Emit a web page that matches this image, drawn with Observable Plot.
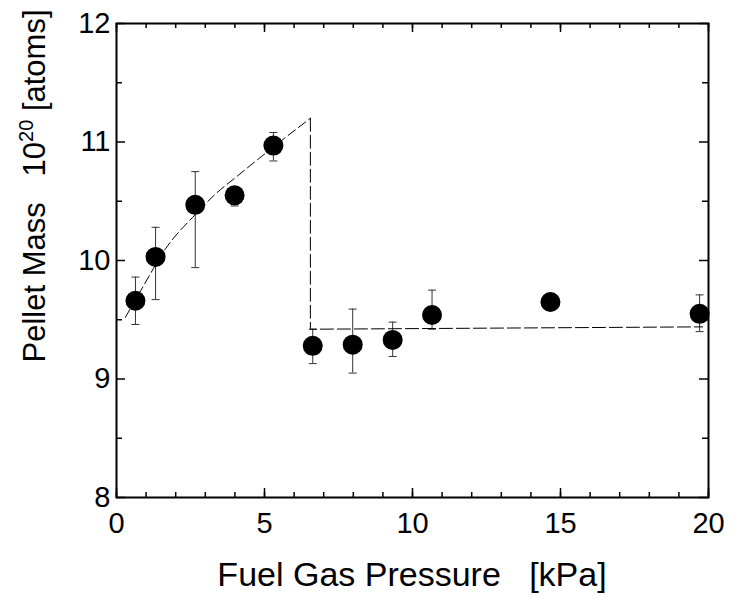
<!DOCTYPE html>
<html>
<head>
<meta charset="utf-8">
<script src="https://cdn.jsdelivr.net/npm/d3@7"></script>
<script src="https://cdn.jsdelivr.net/npm/@observablehq/plot@0.6"></script>
<style>
  html, body { margin: 0; padding: 0; background: #fff; }
</style>
</head>
<body>
<div id="chart"></div>
<script>
// Measured data points
const pressure = [0.64, 1.32, 2.66, 3.99, 5.30, 6.63, 7.98, 9.33, 10.66, 14.66, 19.70];
const mass     = [9.66, 10.03, 10.47, 10.55, 10.97, 9.28, 9.29, 9.33, 9.54, 9.65, 9.55];
const errLow   = [9.46, 9.67, 9.94, 10.46, 10.84, 9.13, 9.05, 9.19, 9.42, null, 9.40];
const errHigh  = [9.86, 10.28, 10.75, 10.60, 11.08, 9.42, 9.59, 9.48, 9.75, null, 9.71];

// Dashed fit curve
const fitX = [0.30, 0.92, 1.66, 2.67, 3.34, 4.02, 4.81, 5.31, 6.55];
const fitY = [9.52, 9.79, 10.10, 10.39, 10.56, 10.70, 10.86, 10.96, 11.20];
// Drop and plateau
const stepX = [6.55, 6.55, 19.80];
const stepY = [11.20, 9.42, 9.44];

// Tick labels
const xTicks = [0, 5, 10, 15, 20];
const yTicks = [8, 9, 10, 11, 12];
const xMinor = d3.range(0, 21, 1);
const yMinor = [8.5, 9.5, 10.5, 11.5];

const points = pressure.map((x, i) => ({x, y: mass[i], lo: errLow[i], hi: errHigh[i]}));
const bars = points.filter(d => d.lo != null);
const fit = fitX.map((x, i) => ({x, y: fitY[i]}));
const step = stepX.map((x, i) => ({x, y: stepY[i]}));

const W = 732, H = 598;
const mL = 116, mR = 24, mT = 23, mB = 101;
const fw = W - mL - mR, fh = H - mT - mB;

const capSymbol = {
  draw(context, size) {
    const r = Math.sqrt(size / Math.PI);
    context.moveTo(-r, 0);
    context.lineTo(r, 0);
  }
};

const chart = Plot.plot({
  width: W,
  height: H,
  marginLeft: mL,
  marginRight: mR,
  marginTop: mT,
  marginBottom: mB,
  style: {fontFamily: "'Liberation Sans', Arial, sans-serif", fontSize: "29px", color: "#000", background: "#fff"},
  x: {domain: [0, 20]},
  y: {domain: [8, 12]},
  marks: [
    // error bars
    Plot.ruleX(bars, {x: "x", y1: "lo", y2: "hi", stroke: "#333", strokeWidth: 1}),
    Plot.dot(bars, {x: "x", y: "lo", r: 4, symbol: capSymbol, stroke: "#333", strokeWidth: 1, fill: "none"}),
    Plot.dot(bars, {x: "x", y: "hi", r: 4, symbol: capSymbol, stroke: "#333", strokeWidth: 1, fill: "none"}),
    // fit lines
    Plot.line(fit, {x: "x", y: "y", curve: "monotone-x", stroke: "#000", strokeWidth: 1, strokeDasharray: "9,4"}),
    Plot.line(step, {x: "x", y: "y", stroke: "#000", strokeWidth: 1, strokeDasharray: "13,4"}),
    // points
    Plot.dot(points, {x: "x", y: "y", r: 10, fill: "#000", stroke: "none"}),
    // inward ticks
    Plot.tickX(xMinor, {x: d => d, insetTop: fh - 5, stroke: "#000", strokeWidth: 1.5}),
    Plot.tickX(xMinor, {x: d => d, insetBottom: fh - 5, stroke: "#000", strokeWidth: 1.5}),
    Plot.tickX(xTicks, {x: d => d, insetTop: fh - 9, stroke: "#000", strokeWidth: 1.5}),
    Plot.tickX(xTicks, {x: d => d, insetBottom: fh - 9, stroke: "#000", strokeWidth: 1.5}),
    Plot.tickY(yMinor, {y: d => d, insetRight: fw - 6, stroke: "#000", strokeWidth: 1.5}),
    Plot.tickY(yMinor, {y: d => d, insetLeft: fw - 6, stroke: "#000", strokeWidth: 1.5}),
    Plot.tickY(yTicks, {y: d => d, insetRight: fw - 9, stroke: "#000", strokeWidth: 1.5}),
    Plot.tickY(yTicks, {y: d => d, insetLeft: fw - 9, stroke: "#000", strokeWidth: 1.5}),
    Plot.frame({stroke: "#000", strokeWidth: 2}),
    // tick labels
    Plot.axisX({ticks: xTicks, tickFormat: d3.format("d"), tickSize: 0, tickPadding: 15, label: null, fontSize: 29}),
    Plot.axisY({ticks: yTicks, tickFormat: d3.format("d"), tickSize: 0, tickPadding: 6, label: null, fontSize: 29})
  ]
});

const svg = d3.select(chart);
// x axis title
svg.append("text")
  .attr("x", mL + fw / 2)
  .attr("y", 586)
  .attr("text-anchor", "middle")
  .attr("font-size", 34)
  .attr("fill", "#000")
  .style("white-space", "pre")
  .text("Fuel Gas Pressure   [kPa]");

// y axis title with superscript
const yt = svg.append("text")
  .attr("transform", "translate(45,186) rotate(-90)")
  .attr("text-anchor", "middle")
  .attr("font-size", 31)
  .attr("fill", "#000")
  .style("white-space", "pre");
yt.append("tspan").text("Pellet Mass   10");
yt.append("tspan").attr("font-size", 20).attr("dy", -12).text("20");
yt.append("tspan").attr("dy", 12).text(" [atoms]");

document.getElementById("chart").appendChild(chart);
</script>
</body>
</html>
